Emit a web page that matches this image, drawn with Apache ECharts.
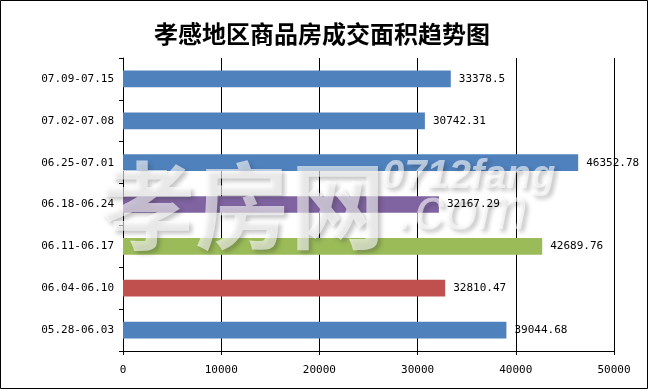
<!DOCTYPE html>
<html>
<head>
<meta charset="utf-8">
<script src="https://cdn.jsdelivr.net/npm/echarts@6/dist/echarts.min.js"></script>
<style>
html,body{margin:0;padding:0;background:#fff;}
#c{width:649px;height:390px;}
</style>
</head>
<body>
<div id="c"></div>
<script>
const titleText = '孝感地区商品房成交面积趋势图';
const categories = ['05.28-06.03','06.04-06.10','06.11-06.17','06.18-06.24','06.25-07.01','07.02-07.08','07.09-07.15'];
const values = [39044.68, 32810.47, 42689.76, 32167.29, 46352.78, 30742.31, 33378.5];
const barColors = ['#4F81BD','#C0504D','#9BBB59','#8064A2','#4F81BD','#4F81BD','#4F81BD'];
const xTicks = [0, 10000, 20000, 30000, 40000, 50000];
const watermark = ['孝房网', '0712fang', '.com'];

const chart = echarts.init(document.getElementById('c'), null, {renderer:'canvas'});
const mono = '"DejaVu Sans Mono", "Liberation Mono", monospace';
function wm(text, left, top, size, family, weight, style){
  return {type:'text', left:left, top:top, z:50, silent:true,
    style:{text:text, fontSize:size, fontFamily:family, fontWeight:weight, fontStyle:style,
      fill:'rgba(255,255,255,0.6)',
      textShadowColor:'rgba(40,40,40,0.45)', textShadowBlur:4, textShadowOffsetX:3, textShadowOffsetY:3}};
}
chart.setOption({
  animation:false,
  backgroundColor:'#fff',
  title:{
    text:titleText, left:317, top:17, textAlign:'center',
    textStyle:{fontFamily:'Noto Sans CJK SC', fontSize:24, fontWeight:'bold', color:'#000'}
  },
  grid:{left:123, right:35, top:58, bottom:39, containLabel:false},
  xAxis:{
    type:'value', min:xTicks[0], max:xTicks[xTicks.length-1], interval:10000,
    axisLine:{show:true, lineStyle:{color:'#000', width:1}},
    axisTick:{show:true, length:4, lineStyle:{color:'#000'}},
    splitLine:{show:true, lineStyle:{color:'#000', width:1}},
    axisLabel:{fontFamily:mono, fontSize:11, color:'#000', margin:14, formatter:v=>String(v)}
  },
  yAxis:{
    type:'category', data:categories,
    axisLine:{show:true, lineStyle:{color:'#000', width:1}},
    axisTick:{show:true, length:4, lineStyle:{color:'#000'}},
    axisLabel:{fontFamily:mono, fontSize:11, color:'#000', margin:9}
  },
  series:[{
    type:'bar', barWidth:'40%', z:2,
    data:values.map((v,i)=>({value:v, itemStyle:{color:barColors[i]}})),
    label:{show:false}
  },{
    type:'bar', barWidth:'40%', barGap:'-100%', z:60, silent:true,
    data:values.slice(),
    itemStyle:{color:'rgba(0,0,0,0)'},
    label:{show:true, position:'right', distance:8, fontFamily:mono, fontSize:11, color:'#000',
      formatter:p=>String(p.value)}
  }],
  graphic:[
    {type:'rect', shape:{x:0.5,y:0.5,width:647,height:388}, style:{fill:null, stroke:'#000', lineWidth:1}, z:100},
    wm(watermark[0], 100, 158, 95, 'Noto Sans CJK SC', 'bold', 'normal'),
    wm(watermark[1], 382, 157, 40, 'Liberation Sans', 'bold', 'italic'),
    wm(watermark[2], 398, 182, 60, 'Liberation Sans', 'normal', 'italic')
  ]
});
</script>
</body>
</html>
